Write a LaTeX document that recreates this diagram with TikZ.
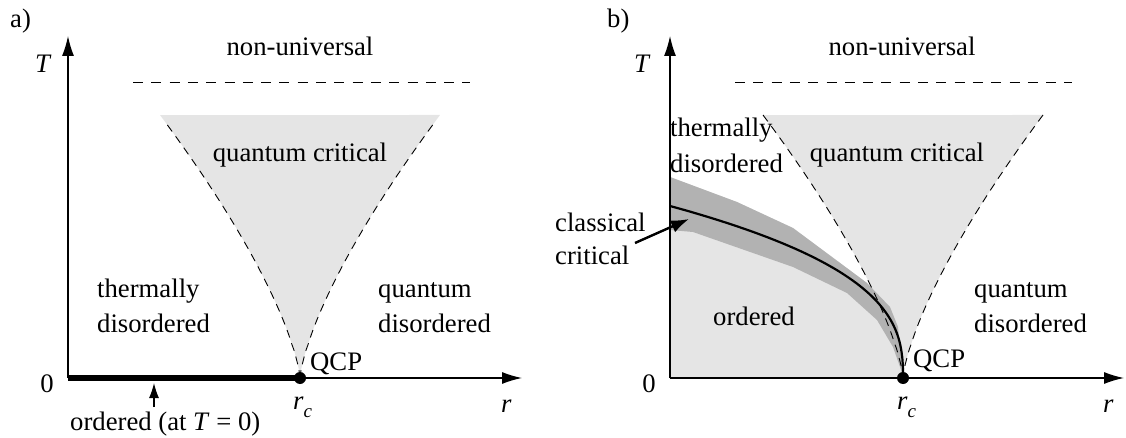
\documentclass[tikz,border=0pt]{standalone}
\usepackage{fontspec}
\setmainfont{Liberation Serif}
\usetikzlibrary{arrows.meta}
\definecolor{lightg}{gray}{0.9}
\definecolor{bandg}{gray}{0.7}
\begin{document}
\begin{tikzpicture}[x=1pt,y=-1pt,
  font=\fontsize{26.7}{32}\selectfont,
  txt/.style={inner sep=0pt,anchor=base west},
  ctxt/.style={inner sep=0pt,anchor=base},
  axisline/.style={line width=1.3pt,-{Latex[length=20pt,width=12pt]}},
  bnddash/.style={line width=0.9pt,dash pattern=on 8pt off 6pt},
  topdash/.style={line width=1pt,dash pattern=on 10pt off 8.3pt},
  crit/.style={line width=2.2pt},
  qdot/.style={circle,fill=black,inner sep=0pt,minimum size=12pt}]
\useasboundingbox (0,0) rectangle (1126,438);
\newcommand{\rcsym}{\textit{r}\raisebox{-0.3em}{\fontsize{19}{19}\selectfont\textit{c}}}

% ================= panel a =================
\coordinate (oa) at (68,378);
\coordinate (Ta) at (68,36);
\coordinate (ra) at (522,378);
\coordinate (qa) at (300,378);
% funnel
\fill[lightg] (300,378) -- plot[domain=0.01:1,samples=50,variable=\t] ({300-140*\t^1.4},{378-263*\t})
  -- plot[domain=1:0.01,samples=50,variable=\t] ({300+140*\t^1.4},{378-263*\t}) -- cycle;
\draw[bnddash] plot[domain=0.962:0.01,samples=50,variable=\t] ({300-140*\t^1.4},{378-263*\t}) -- (300,378);
\draw[bnddash] plot[domain=0.962:0.01,samples=50,variable=\t] ({300+140*\t^1.4},{378-263*\t}) -- (300,378);
\draw[topdash] (133,83) -- (470,83);
% axes
\draw[axisline] (oa) -- (Ta);
\draw[axisline] (oa) -- (ra);
\draw[line width=6.5pt] (oa) -- (qa);
\node[qdot] (qcpa) at (qa) {};
% labels
\node[txt] (la) at (10,28) {a)};
\node[txt] (Tla) at (35,73) {\textit{T}};
\node[ctxt] (zeroa) at (47,392) {0};
\node[ctxt] (nua) at (300,56) {non-universal};
\node[ctxt] (qca) at (300,162) {quantum critical};
\node[txt] (tha) at (97,297) {thermally};
\node[txt] (tda) at (97,332) {disordered};
\node[txt] (qua) at (378,297) {quantum};
\node[txt] (qda) at (378,332) {disordered};
\node[txt] (QCPa) at (310,370) {QCP};
\node[txt] (rca) at (293,409) {\rcsym};
\node[txt] (rla) at (501,412) {\textit{r}};
\node[txt] (orda) at (70,430) {ordered (at \textit{T} = 0)};
\coordinate (ordtail) at (154,407);
\coordinate (ordtip) at (154,383);
\draw[line width=1.2pt,-{Latex[length=15pt,width=10pt]}] (ordtail) -- (ordtip);

% ================= panel b =================
\coordinate (ob) at (670,378);
\coordinate (Tb) at (670,36);
\coordinate (rb) at (1124,378);
\coordinate (qb) at (903,378);
% funnel
\fill[lightg] (903,378) -- plot[domain=0.01:1,samples=50,variable=\t] ({903-140*\t^1.4},{378-263*\t})
  -- plot[domain=1:0.01,samples=50,variable=\t] ({903+140*\t^1.4},{378-263*\t}) -- cycle;
% ordered region
\fill[lightg] (670,378) -- (670,177) -- (737,202) -- (793,228) -- (867,283) -- (890,307)
  -- (898,327) -- (900,347) -- (903,375) -- (903,378) -- cycle;
% band
\fill[bandg] (670,177) -- (737,202) -- (793,228) -- (867,283) -- (890,307)
  -- (898,327) -- (900,347) -- (903,375) -- (900,367) -- (893,347) -- (877,320)
  -- (847,293) -- (793,267) -- (693,232) -- (670,230) -- cycle;
\draw[bnddash] plot[domain=1:0.01,samples=50,variable=\t] ({903-140*\t^1.4},{378-263*\t}) -- (903,378);
\draw[bnddash] plot[domain=1:0.01,samples=50,variable=\t] ({903+140*\t^1.4},{378-263*\t}) -- (903,378);
\draw[topdash] (735,83) -- (1072,83);
% critical line
\draw[crit] plot[domain=1:0.02,samples=60,variable=\v] ({903-233*\v^2.7},{378-172*\v}) -- (903,378);
% axes
\draw[axisline] (ob) -- (Tb);
\draw[axisline] (ob) -- (rb);
\node[qdot] (qcpb) at (qb) {};
% labels
\node[txt] (lb) at (607,28) {b)};
\node[txt] (Tlb) at (634,73) {\textit{T}};
\node[ctxt] (zerob) at (649,392) {0};
\node[ctxt] (nub) at (902,56) {non-universal};
\node[ctxt] (qcb) at (897,162) {quantum critical};
\node[txt] (thb) at (670,137) {thermally};
\node[txt] (tdb) at (670,173) {disordered};
\node[txt] (qub) at (974,297) {quantum};
\node[txt] (qdb) at (974,332) {disordered};
\node[txt] (QCPb) at (913,367) {QCP};
\node[txt] (rcb) at (897,409) {\rcsym};
\node[txt] (rlb) at (1103,412) {\textit{r}};
\node[txt] (ordb) at (713,325) {ordered};
\node[txt] (clb) at (555,232) {classical};
\node[txt] (crb) at (555,265) {critical};
\coordinate (cctail) at (635,243);
\coordinate (cctip) at (689,219);
\draw[line width=2.4pt,-{Latex[length=18pt,width=13pt]}] (cctail) -- (cctip);
\end{tikzpicture}
\end{document}
